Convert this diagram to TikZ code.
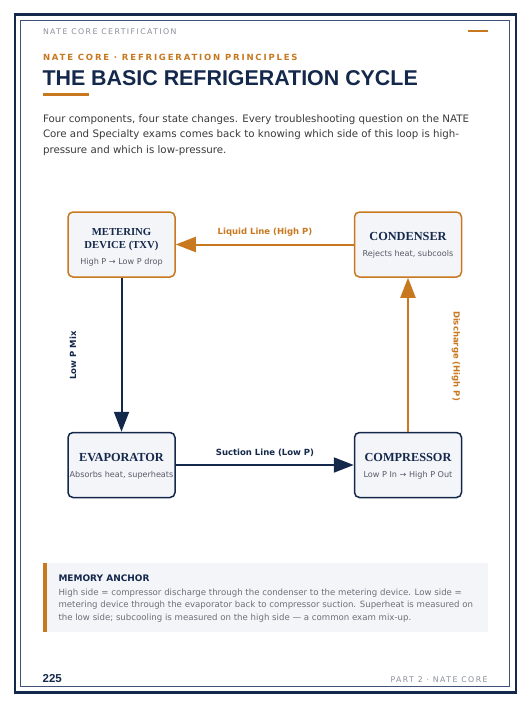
\documentclass[tikz,border=0pt]{standalone}
\usepackage{fontspec}
\usetikzlibrary{arrows.meta}
\setmainfont{DejaVu Sans}
\newfontfamily\arialf{Liberation Sans}
\newfontfamily\timesf{Liberation Serif}
\newfontfamily\spacedf[LetterSpace=18]{DejaVu Sans}
\newfontfamily\kickerf[LetterSpace=21.5]{DejaVu Sans}
\definecolor{navy}{HTML}{14284B}
\definecolor{accent}{HTML}{C8781E}
\definecolor{paratext}{HTML}{3A3A3A}
\definecolor{headgray}{HTML}{8A8F99}
\definecolor{subgray}{HTML}{555B66}
\definecolor{boxfill}{HTML}{F4F5F9}
\definecolor{innerline}{HTML}{3D5478}
\definecolor{notegray}{HTML}{6A6F78}
\tikzset{
  txt/.style={inner sep=0pt, outer sep=0pt, anchor=base west},
  comp/.style={draw, line width=1.5pt, rounded corners=5pt, fill=boxfill, minimum width=107pt, minimum height=65pt, inner sep=0pt},
  comptitle/.style={inner sep=0pt, anchor=base, text=navy, font=\timesf\bfseries\fontsize{12.3}{12.3}\selectfont},
  compsub/.style={inner sep=0pt, anchor=base, text=subgray, font=\fontsize{8.1}{8.1}\selectfont},
  flow/.style={line width=2pt, -{Triangle[length=20pt,width=15pt]}},
  flowlabel/.style={inner sep=0pt, anchor=base, font=\bfseries\fontsize{8.5}{8.5}\selectfont},
  paraline/.style={txt, text=paratext, font=\fontsize{10.25}{10.25}\selectfont},
  noteline/.style={txt, text=notegray, font=\fontsize{8.6}{8.6}\selectfont},
}
\begin{document}
\begin{tikzpicture}[x=1pt,y=-1pt]
\useasboundingbox (0,0) rectangle (530,707);
\fill[white] (0,0) rectangle (530,707);
% page frame
\draw[navy, line width=2.5pt] (14.8,14.3) rectangle (516,692.5);
\draw[innerline, line width=1pt] (20.5,20.5) rectangle (509.5,686.2);
% header
\node[txt, text=headgray, font=\spacedf\fontsize{7.8}{7.8}\selectfont] (hdr) at (43,34) {NATE CORE CERTIFICATION};
\coordinate (dashA) at (468,30.8);
\coordinate (dashB) at (487.5,30.8);
\draw[accent, line width=1.8pt] (dashA) -- (dashB);
\node[txt, text=accent, font=\kickerf\bfseries\fontsize{8.5}{8.5}\selectfont] (kicker) at (43,60.5) {NATE CORE · REFRIGERATION PRINCIPLES};
\node[txt, text=navy, font=\arialf\bfseries\fontsize{21.4}{21.4}\selectfont] (title) at (42.5,85) {THE BASIC REFRIGERATION CYCLE};
\coordinate (ulA) at (43,94.3);
\coordinate (ulB) at (88.5,94.3);
\draw[accent, line width=3pt] (ulA) -- (ulB);
% intro paragraph
\node[paraline] (p1) at (43,122) {Four components, four state changes. Every troubleshooting question on the NATE};
\node[paraline] (p2) at (43,137.8) {Core and Specialty exams comes back to knowing which side of this loop is high-};
\node[paraline] (p3) at (43,153.5) {pressure and which is low-pressure.};
% components
\node[comp, draw=accent] (met) at (121.5,244.5) {};
\node[comp, draw=accent] (cond) at (408,244.5) {};
\node[comp, draw=navy] (evap) at (121.5,465) {};
\node[comp, draw=navy] (compr) at (408,465) {};
\node[comptitle, font=\timesf\bfseries\fontsize{10.7}{10.7}\selectfont] (metA) at (121.5,235) {METERING};
\node[comptitle, font=\timesf\bfseries\fontsize{10.7}{10.7}\selectfont] (metB) at (121.5,248.5) {DEVICE (TXV)};
\node[compsub] (metC) at (121.5,264) {High P → Low P drop};
\node[comptitle] (condA) at (408,240.5) {CONDENSER};
\node[compsub] (condB) at (408,256.5) {Rejects heat, subcools};
\node[comptitle] (evapA) at (121.5,461.3) {EVAPORATOR};
\node[compsub] (evapB) at (121.5,477.3) {Absorbs heat, superheats};
\node[comptitle] (comprA) at (408,461.3) {COMPRESSOR};
\node[compsub] (comprB) at (408,477.3) {Low P In → High P Out};
% connectors
\draw[flow, accent] (cond.west) -- (met.east);
\draw[flow, navy] (met.south) -- (evap.north);
\draw[flow, navy] (evap.east) -- (compr.west);
\draw[flow, accent] (compr.north) -- (cond.south);
\node[flowlabel, text=accent] (lblLiquid) at (265,234.7) {Liquid Line (High P)};
\node[flowlabel, text=navy] (lblSuction) at (265,455.7) {Suction Line (Low P)};
\node[flowlabel, text=navy, anchor=center, rotate=90] (lblLowP) at (73,355.5) {Low P Mix};
\node[flowlabel, text=accent, anchor=center, rotate=-90] (lblDis) at (456,356) {Discharge (High P)};
% memory anchor
\fill[boxfill] (43,563) rectangle (487.5,632);
\fill[accent] (42.5,563) rectangle (46.5,632);
\node[txt, text=navy, font=\bfseries\fontsize{9}{9}\selectfont] (memT) at (58.5,581.7) {MEMORY ANCHOR};
\node[noteline] (m1) at (58.5,595) {High side = compressor discharge through the condenser to the metering device. Low side =};
\node[noteline] (m2) at (58.5,607.6) {metering device through the evaporator back to compressor suction. Superheat is measured on};
\node[noteline] (m3) at (58.5,620.2) {the low side; subcooling is measured on the high side — a common exam mix-up.};
% footer
\node[txt, text=navy, font=\arialf\bfseries\fontsize{11.5}{11.5}\selectfont] (pg) at (42.7,682.7) {225};
\node[txt, anchor=base east, text=headgray, font=\spacedf\fontsize{7.8}{7.8}\selectfont] (part) at (487.5,682.5) {PART 2 · NATE CORE};
\end{tikzpicture}
\end{document}
